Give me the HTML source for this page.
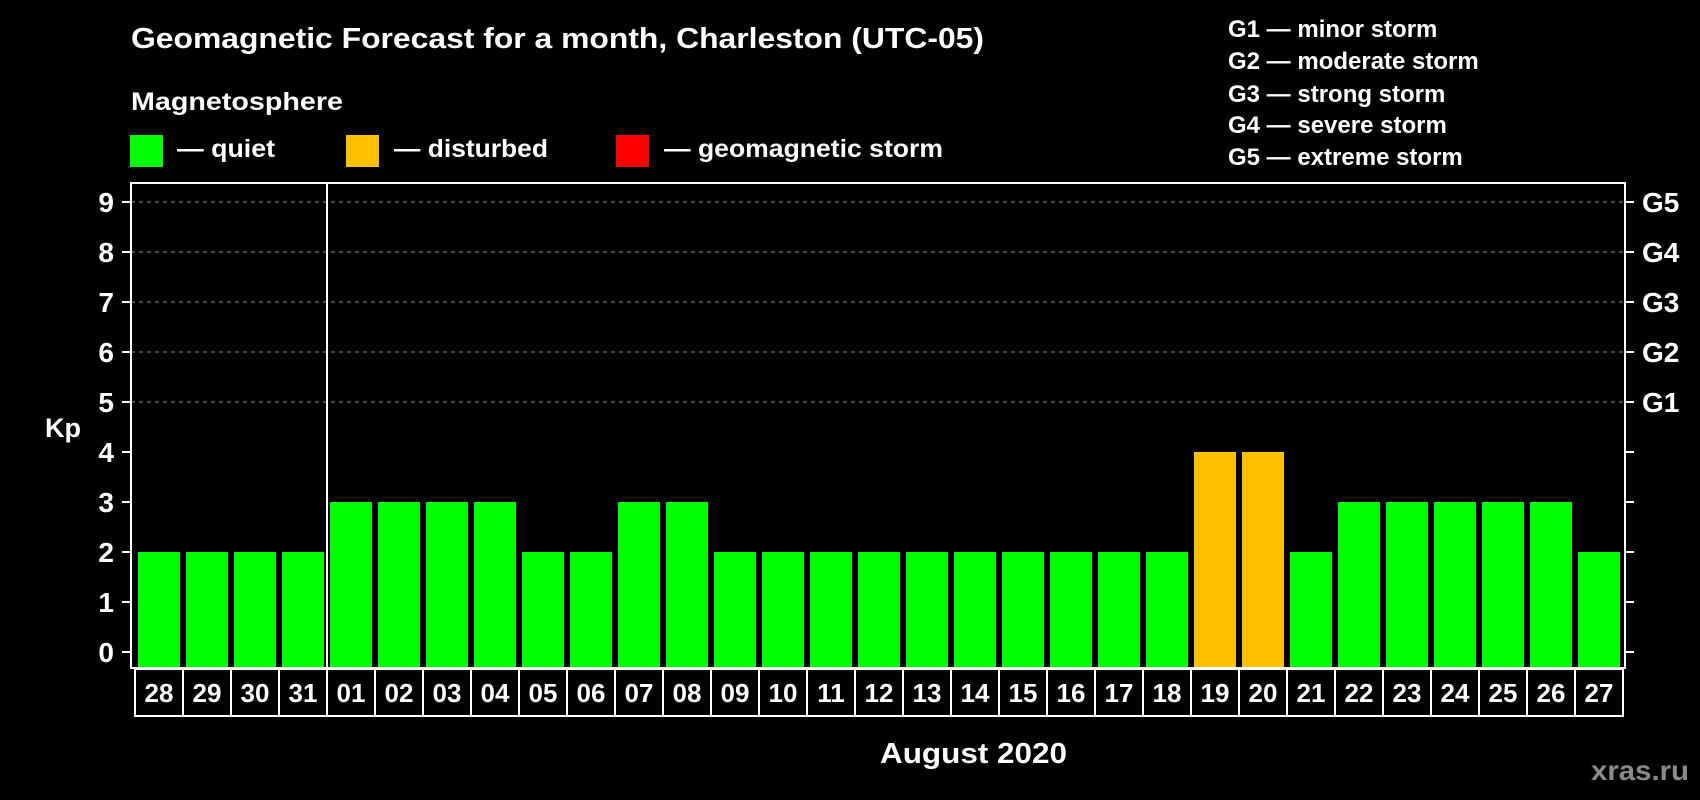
<!DOCTYPE html>
<html><head><meta charset="utf-8"><style>
html,body{margin:0;padding:0;background:#000;width:1700px;height:800px;overflow:hidden}
svg{display:block}
text{font-family:"Liberation Sans",Arial,sans-serif;font-weight:bold;fill:#fff}
</style></head><body>
<svg id="chart" width="1700" height="800" viewBox="0 0 1700 800">
<text x="131" y="48" font-size="29" textLength="853" lengthAdjust="spacingAndGlyphs">Geomagnetic Forecast for a month, Charleston (UTC-05)</text>
<text x="131" y="110" font-size="25" textLength="212" lengthAdjust="spacingAndGlyphs">Magnetosphere</text>
<rect x="130" y="135" width="33" height="32" fill="#00ff00"/>
<text x="177" y="157" font-size="25" textLength="98" lengthAdjust="spacingAndGlyphs">— quiet</text>
<rect x="346" y="135" width="33" height="32" fill="#ffc000"/>
<text x="394" y="157" font-size="25" textLength="154" lengthAdjust="spacingAndGlyphs">— disturbed</text>
<rect x="616" y="135" width="33" height="32" fill="#ff0000"/>
<text x="664" y="157" font-size="25" textLength="279" lengthAdjust="spacingAndGlyphs">— geomagnetic storm</text>
<g>
<text x="1228" y="37" font-size="24">G1 — minor storm</text>
<text x="1228" y="69" font-size="24">G2 — moderate storm</text>
<text x="1228" y="102" font-size="24">G3 — strong storm</text>
<text x="1228" y="133" font-size="24">G4 — severe storm</text>
<text x="1228" y="165" font-size="24">G5 — extreme storm</text>
</g>
<text x="63" y="437" font-size="27" text-anchor="middle">Kp</text>
<text x="880" y="763" font-size="29" textLength="187" lengthAdjust="spacingAndGlyphs">August 2020</text>
<text x="1591" y="780" font-size="28" style="fill:#8a8a8a" textLength="98" lengthAdjust="spacingAndGlyphs">xras.ru</text>
<g id="plot"></g>
</svg>
<script>
const categories = ["28","29","30","31","01","02","03","04","05","06","07","08","09","10","11","12","13","14","15","16","17","18","19","20","21","22","23","24","25","26","27"];
const kpValues = [2,2,2,2,3,3,3,3,2,2,3,3,2,2,2,2,2,2,2,2,2,2,4,4,2,3,3,3,3,3,2];
const yTicks = ["0","1","2","3","4","5","6","7","8","9"];
const gLabels = ["G1","G2","G3","G4","G5"];
const gLevels = [5,6,7,8,9];
const monthStartIndex = 4;

const NS = "http://www.w3.org/2000/svg";
const plotG = document.getElementById("plot");
const plotLeft = 131, plotRight = 1625, plotTop = 183, plotBottom = 668;
const baseY = 652, unitY = 50;
const barX0 = 138, pitch = 48, barW = 42;
function yScale(v){ return baseY - unitY * v; }
function xScale(i){ return barX0 + pitch * i; }
function mk(tag, attrs){ const e = document.createElementNS(NS, tag); for (const k in attrs) e.setAttribute(k, attrs[k]); plotG.appendChild(e); return e; }

gLevels.forEach((lv) => {
  const l = mk("line", {x1: plotLeft, x2: plotRight, y1: yScale(lv), y2: yScale(lv), stroke: "#8c8c8c", "stroke-width": 1, "stroke-dasharray": "4,4"});
  
  
});
kpValues.forEach((v, i) => {
  const color = v >= 5 ? "#ff0000" : (v >= 4 ? "#ffc000" : "#00ff00");
  const r = mk("rect", {x: xScale(i), y: yScale(v), width: barW, height: plotBottom - yScale(v), fill: color});
  
  
});
const fr = mk("rect", {x: plotLeft, y: plotTop, width: plotRight - plotLeft, height: plotBottom - plotTop, fill: "none", stroke: "#fff", "stroke-width": 2});


const dx = xScale(monthStartIndex) - 3;
const dv = mk("line", {x1: dx, x2: dx, y1: plotTop, y2: plotBottom, stroke: "#fff", "stroke-width": 2});


yTicks.forEach((t) => {
  const yy = yScale(+t);
  const tl = mk("line", {x1: 122, x2: plotLeft, y1: yy, y2: yy, stroke: "#fff", "stroke-width": 2});
  
  
  const tr = mk("line", {x1: plotRight, x2: 1634, y1: yy, y2: yy, stroke: "#fff", "stroke-width": 2});
  
  
  const tx = mk("text", {x: 114, y: yy + 10, "font-size": 28, "text-anchor": "end"});
  tx.textContent = t;
  
  
});
gLabels.forEach((lab, i) => {
  const tx = mk("text", {x: 1642, y: yScale(gLevels[i]) + 10, "font-size": 28});
  tx.textContent = lab;
  
  
});
const bx0 = 135, by = 669, bh = 47;
categories.forEach((c, i) => {
  const r = mk("rect", {x: bx0 + pitch * i, y: by, width: pitch, height: bh, fill: "none", stroke: "#fff", "stroke-width": 2});
  
  
  const t = mk("text", {x: bx0 + pitch * i + pitch / 2, y: by + 33, "font-size": 26, "text-anchor": "middle"});
  t.textContent = c;
  
  
});
</script>
</body></html>
